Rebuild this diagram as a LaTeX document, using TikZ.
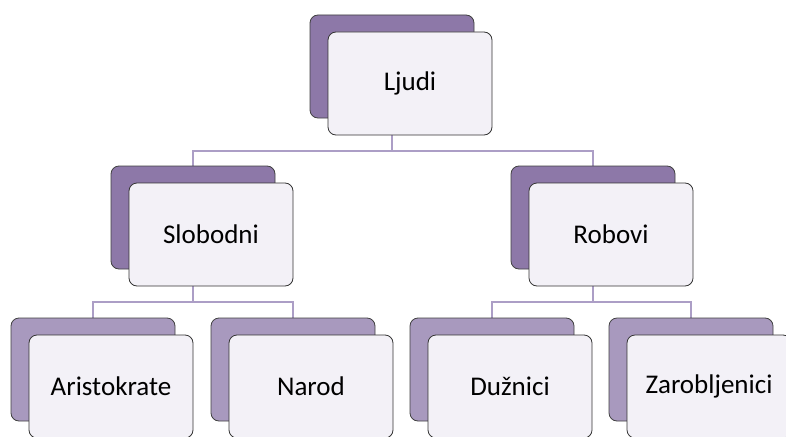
\documentclass[tikz,border=0pt]{standalone}
\usepackage{fontspec}
\setmainfont{Carlito}
\usetikzlibrary{backgrounds}
\definecolor{darkpurple}{RGB}{141,120,168}
\definecolor{lightpurple}{RGB}{168,153,190}
\definecolor{linkcol}{RGB}{172,158,198}
\definecolor{cardfill}{RGB}{243,241,247}
\tikzstyle{back} = [rectangle, rounded corners=8pt, minimum width=164pt, minimum height=103pt, draw=black!75, line width=0.8pt, fill=darkpurple]
\tikzstyle{backlight} = [back, fill=lightpurple]
\tikzstyle{card} = [rectangle, rounded corners=8pt, minimum width=164pt, minimum height=103pt, text centered, draw=black!80, line width=0.8pt, fill=cardfill, font=\fontsize{27}{32}\selectfont, xshift=18pt, yshift=-17pt]
\tikzstyle{link} = [line width=2pt, draw=linkcol]

\begin{document}
\begin{tikzpicture}[x=1pt, y=1pt]
\useasboundingbox (0,0) rectangle (786,-436);
\clip (0,0) rectangle (786,-436);

\node (ljudi) [back] at (392,-66.5) {};
\node (ljudiT) [card] at (ljudi) {Ljudi};

\node (slobodni) [back] at (193,-217.5) {};
\node (slobodniT) [card] at (slobodni) {Slobodni};
\node (robovi) [back] at (593,-217.5) {};
\node (roboviT) [card] at (robovi) {Robovi};

\node (aristokrate) [backlight] at (93,-369.5) {};
\node (aristokrateT) [card] at (aristokrate) {Aristokrate};
\node (narod) [backlight] at (293,-369.5) {};
\node (narodT) [card] at (narod) {Narod};
\node (duznici) [backlight] at (492,-369.5) {};
\node (duzniciT) [card] at (duznici) {Dužnici};
\node (zarobljenici) [backlight] at (691,-369.5) {};
\node (zarobljeniciT) [card] at (zarobljenici) {Zarobljenici};

\begin{pgfonlayer}{background}
\draw [link] (ljudi.south) -- ++(0,-33) -| (slobodni.north);
\draw [link] (ljudi.south) -- ++(0,-33) -| (robovi.north);
\draw [link] (slobodni.south) -- ++(0,-33) -| (aristokrate.north);
\draw [link] (slobodni.south) -- ++(0,-33) -| (narod.north);
\draw [link] (robovi.south) -- ++(0,-33) -| (duznici.north);
\draw [link] (robovi.south) -- ++(0,-33) -| (zarobljenici.north);
\end{pgfonlayer}

\end{tikzpicture}
\end{document}
